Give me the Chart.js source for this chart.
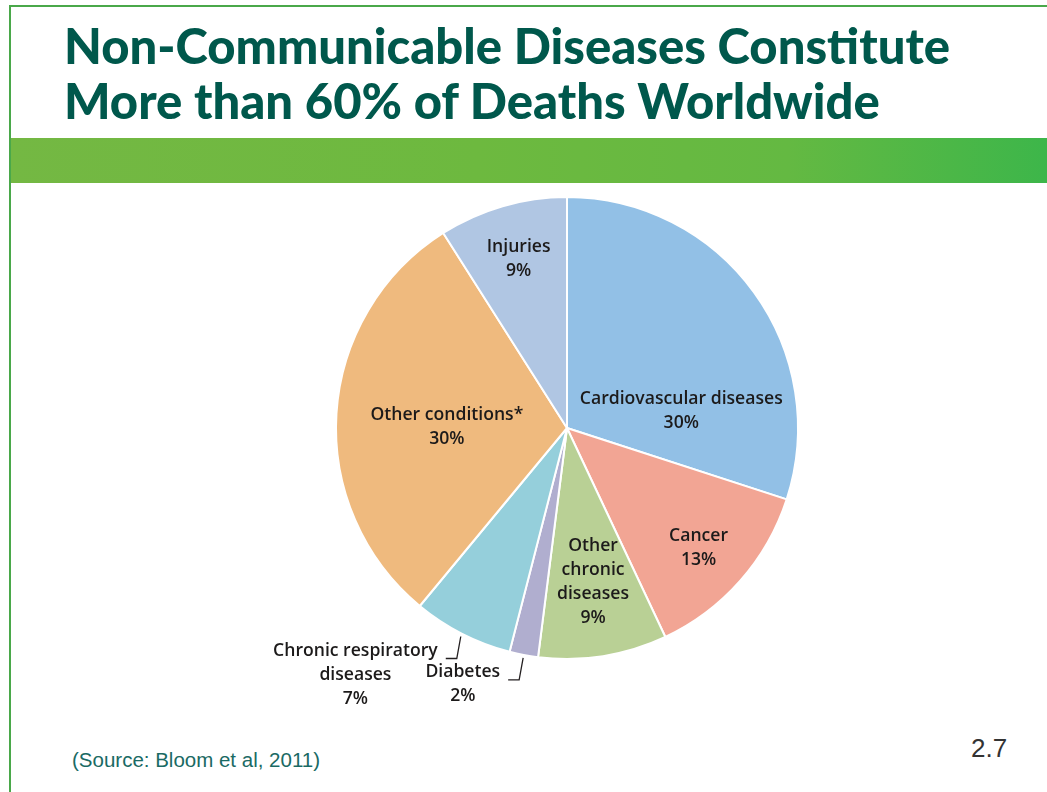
<!DOCTYPE html>
<html>
<head>
<meta charset="utf-8">
<script src="https://cdn.jsdelivr.net/npm/chart.js@4.4.1/dist/chart.umd.min.js"></script>
<style>
  html, body { margin: 0; padding: 0; background: #fff; }
  body { width: 1047px; height: 792px; position: relative; overflow: hidden; }
  .frame-top { position: absolute; left: 10px; top: 5px; width: 1037px; height: 2px; background: #4aa84a; }
  .frame-left { position: absolute; left: 9px; top: 5px; width: 2px; height: 787px; background: #4aa84a; }
  .title {
    position: absolute; left: 64px; top: 18px; margin: 0;
    font-family: Lato, sans-serif; font-weight: 900; font-size: 49px; line-height: 55px;
    color: #00584c; white-space: nowrap;
  }
  .banner {
    position: absolute; left: 11px; top: 138px; width: 1036px; height: 45px;
    background: linear-gradient(90deg, #74b843 0%, #6db93f 45%, #64b942 75%, #3db64a 100%);
  }
  .source {
    position: absolute; left: 72px; top: 748px;
    font-family: "Liberation Sans", Arial, sans-serif; font-size: 20.5px; color: #1a6a64;
  }
  .page {
    position: absolute; left: 971px; top: 733px;
    font-family: "Liberation Sans", Arial, sans-serif; font-size: 26px; color: #333;
  }
  #chart { position: absolute; left: 0; top: 0; }
</style>
</head>
<body>
<div class="frame-top"></div>
<div class="frame-left"></div>
<h1 class="title">Non-Communicable Diseases Constitute<br>More than 60% of Deaths Worldwide</h1>
<div class="banner"></div>
<div class="source">(Source: Bloom et al, 2011)</div>
<div class="page">2.7</div>
<canvas id="chart" width="1047" height="792"></canvas>
<script>
// slices, clockwise from 12 o'clock
const categories = [
  ['Cardiovascular diseases'],
  ['Cancer'],
  ['Other', 'chronic', 'diseases'],
  ['Diabetes'],
  ['Chronic respiratory', 'diseases'],
  ['Other conditions*'],
  ['Injuries']
];
const shares = [30, 13, 9, 2, 7, 30, 9];
const sliceColors = ['#92c0e6', '#f2a594', '#b9d095', '#b0aecf', '#95cfdb', '#efba7e', '#b0c6e3'];

// label placement: [angle from top in degrees, fraction of radius], null = outside with leader
const labelSpots = [[81.6, 0.5], [132.3, 0.77], [170.4, 0.675], null, null, [270.5, 0.52], [344, 0.76]];

const sliceLabels = {
  id: 'sliceLabels',
  afterDatasetsDraw(chart) {
    const ctx = chart.ctx;
    const arcs = chart.getDatasetMeta(0).data;
    const lineH = 24;
    ctx.save();
    ctx.font = '600 17.6px "Open Sans", sans-serif';
    ctx.fillStyle = '#1c1a1a';
    ctx.textAlign = 'center';
    ctx.textBaseline = 'middle';
    arcs.forEach((arc, i) => {
      const lines = categories[i].concat([shares[i] + '%']);
      const cx = arc.x, cy = arc.y, r = arc.outerRadius;
      const spot = labelSpots[i];
      if (spot) {
        const a = spot[0] * Math.PI / 180;
        const x = cx + Math.sin(a) * r * spot[1];
        const y = cy - Math.cos(a) * r * spot[1];
        const y0 = y - (lines.length - 1) * lineH / 2;
        lines.forEach((t, k) => ctx.fillText(t, x, y0 + k * lineH));
      } else {
        // leader line from the slice edge at its mid angle
        const mid = (arc.startAngle + arc.endAngle) / 2;
        const ex = cx + Math.cos(mid) * (r + 3);
        const ey = cy + Math.sin(mid) * (r + 3);
        const bx = ex - 4, by = ey + 22;
        const tx = bx - 11;
        ctx.strokeStyle = '#231f20';
        ctx.lineWidth = 1.3;
        ctx.beginPath();
        ctx.moveTo(ex, ey);
        ctx.lineTo(bx, by);
        ctx.lineTo(tx, by);
        ctx.stroke();
        const w = ctx.measureText(lines[0]).width;
        const x = tx - 8 - w / 2;
        const y0 = by - 8;
        lines.forEach((t, k) => ctx.fillText(t, x, y0 + k * lineH));
      }
    });
    ctx.restore();
  }
};

new Chart(document.getElementById('chart'), {
  type: 'pie',
  data: {
    labels: categories.map(c => c.join(' ')),
    datasets: [{
      data: shares,
      backgroundColor: sliceColors,
      borderColor: '#ffffff',
      borderWidth: 2
    }]
  },
  options: {
    responsive: false,
    animation: false,
    layout: { padding: { left: 335, top: 196, right: 248, bottom: 132 } },
    plugins: {
      legend: { display: false },
      tooltip: { enabled: false }
    }
  },
  plugins: [sliceLabels]
});
</script>
</body>
</html>
